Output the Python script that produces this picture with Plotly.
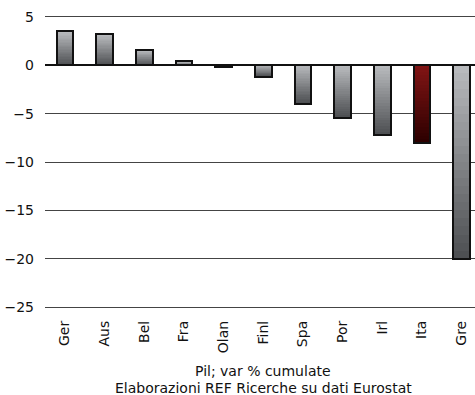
import plotly.graph_objects as go

categories = ["Ger", "Aus", "Bel", "Fra", "Olan", "Finl", "Spa", "Por", "Irl", "Ita", "Gre"]
values = [3.5, 3.2, 1.6, 0.4, -0.2, -1.2, -4.0, -5.4, -7.2, -8.0, -20.0]
highlight = "Ita"
y_ticks = [5, 0, -5, -10, -15, -20, -25]
y_range = [-25.3, 5.3]

def lerp(c1, c2, t):
    return "rgb(%d,%d,%d)" % tuple(round(a + (b - a) * t) for a, b in zip(c1, c2))

GRAY_TOP, GRAY_BOT = (184, 186, 189), (78, 80, 83)
RED_TOP, RED_BOT = (128, 20, 20), (45, 0, 0)

N = 24
BW = 0.42
fig = go.Figure()
for k in range(N):
    ys, bases, cols = [], [], []
    for c, v in zip(categories, values):
        ys.append(v / N)
        bases.append(v * k / N)
        t = (N - 1 - k) / (N - 1) if v >= 0 else k / (N - 1)
        top, bot = (RED_TOP, RED_BOT) if c == highlight else (GRAY_TOP, GRAY_BOT)
        cols.append(lerp(top, bot, t))
    fig.add_trace(go.Bar(x=categories, y=ys, base=bases, width=BW,
                         marker=dict(color=cols, line=dict(width=0)),
                         showlegend=False, hoverinfo="skip"))
fig.add_trace(go.Bar(x=categories, y=values, width=BW,
                     marker=dict(color="rgba(0,0,0,0)", line=dict(color="#111", width=2)),
                     showlegend=False))

x_hi = 10.34
zero_pos = (0 - y_range[0]) / (y_range[1] - y_range[0])
FS = 14
font = dict(family="DejaVu Sans, Verdana, sans-serif", size=FS, color="#111")
fig.update_layout(
    template="none",
    width=475, height=395,
    margin=dict(l=45, r=0, t=14, b=85, autoexpand=False),
    paper_bgcolor="white", plot_bgcolor="white",
    barmode="overlay", bargap=0,
    font=font,
    xaxis=dict(range=[-0.5, x_hi], tickangle=-90, showgrid=False, ticks="",
               showline=False, zeroline=False, tickfont=dict(size=FS), ticklabelstandoff=7,
               automargin=False),
    xaxis2=dict(overlaying="x", anchor="free", position=zero_pos, range=[-0.5, x_hi],
                tickmode="array", tickvals=[i - 0.5 for i in range(len(categories))],
                ticks="outside", ticklen=5, tickcolor="#222", tickwidth=1,
                showticklabels=False, showline=False, showgrid=False, zeroline=False,
                automargin=False),
    yaxis=dict(range=y_range, tickvals=y_ticks, showgrid=True, gridcolor="#444",
               gridwidth=1, zeroline=True, zerolinecolor="#111", zerolinewidth=1.5,
               showline=False, ticks="", ticklabelstandoff=10, tickfont=dict(size=FS),
               automargin=False),
)
fig.add_annotation(text="Pil; var % cumulate", xref="paper", yref="paper", x=0.507, y=0,
                   yshift=-61, showarrow=False, xanchor="center", yanchor="middle", font=dict(size=FS))
fig.add_annotation(text="Elaborazioni REF Ricerche su dati Eurostat", xref="paper", yref="paper",
                   x=0.507, y=0, yshift=-78, showarrow=False, xanchor="center", yanchor="middle",
                   font=dict(size=FS))
fig.write_html("out.html", config={"displayModeBar": False},
               post_script="document.body.style.margin='0';document.body.style.overflow='hidden';")
